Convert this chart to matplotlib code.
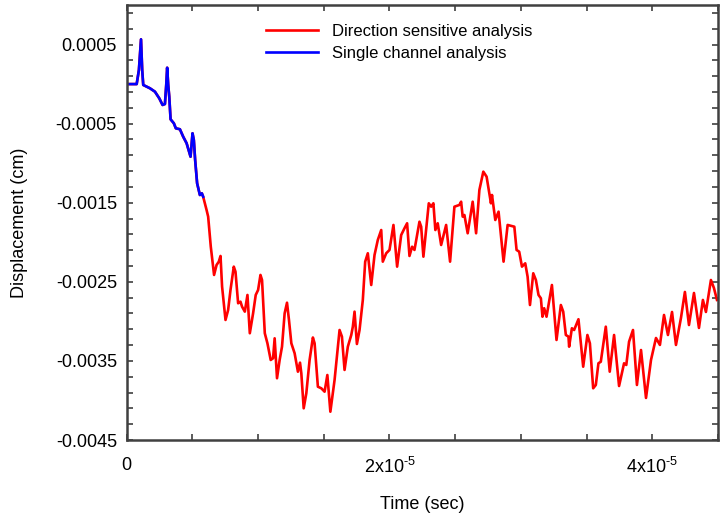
import numpy as np
import matplotlib
matplotlib.use("Agg")
import matplotlib.pyplot as plt
from matplotlib.ticker import FixedLocator, FuncFormatter

plt.rcParams['font.family'] = ['Liberation Sans', 'DejaVu Sans']
plt.rcParams['mathtext.fontset'] = 'custom'
plt.rcParams['mathtext.rm'] = 'Liberation Sans'
plt.rcParams['axes.unicode_minus'] = False

# time in units of 1e-5 s, displacement in units of 1e-4 cm
t_single = [0.0, 0.076, 0.093, 0.109, 0.118, 0.126, 0.177, 0.215, 0.248, 0.273,
            0.291, 0.301, 0.308, 0.316, 0.324, 0.334, 0.359, 0.374, 0.405, 0.430,
            0.456, 0.486, 0.501, 0.511, 0.521, 0.536, 0.557, 0.572, 0.582]
d_single = [0.0, 0.0, 1.78, 5.66, 1.78, -0.11, -0.53, -0.96, -1.80, -2.64,
            -2.52, -0.11, 2.07, -0.11, -1.59, -4.45, -4.96, -5.59, -5.71, -6.65,
            -7.48, -9.18, -6.22, -7.07, -9.60, -12.54, -14.02, -13.81, -14.24]

t_dir = t_single + [
    0.608, 0.620, 0.640, 0.665, 0.684, 0.701, 0.714, 0.726, 0.752, 0.772,
    0.790, 0.815, 0.828, 0.848, 0.866, 0.878, 0.899, 0.919, 0.937, 0.962,
    0.982, 1.000, 1.018, 1.030, 1.051, 1.071, 1.096, 1.114, 1.126, 1.144,
    1.164, 1.182, 1.202, 1.220, 1.235, 1.253, 1.278, 1.303, 1.319, 1.329,
    1.347, 1.367, 1.392, 1.417, 1.430, 1.455, 1.481, 1.506, 1.527, 1.550,
    1.582, 1.620, 1.638, 1.658, 1.683, 1.709, 1.721, 1.734, 1.752, 1.772,
    1.797, 1.815, 1.835, 1.861, 1.886, 1.911, 1.937, 1.949, 1.975, 2.000,
    2.030, 2.058, 2.089, 2.114, 2.134, 2.152, 2.172, 2.190, 2.228, 2.241,
    2.258, 2.299, 2.317, 2.334, 2.349, 2.367, 2.393, 2.431, 2.461, 2.494,
    2.532, 2.545, 2.557, 2.570, 2.595, 2.633, 2.659, 2.684, 2.714, 2.739,
    2.760, 2.772, 2.780, 2.805, 2.830, 2.868, 2.899, 2.950, 2.967, 2.987,
    3.008, 3.033, 3.051, 3.069, 3.094, 3.114, 3.134, 3.152, 3.164, 3.177,
    3.195, 3.236, 3.271, 3.304, 3.322, 3.342, 3.362, 3.367, 3.388, 3.405,
    3.438, 3.474, 3.506, 3.525, 3.550, 3.570, 3.590, 3.608, 3.646, 3.676,
    3.709, 3.747, 3.785, 3.802, 3.823, 3.853, 3.883, 3.914, 3.952, 3.990,
    4.028, 4.058, 4.089, 4.119, 4.150, 4.180, 4.218, 4.248, 4.279, 4.317,
    4.355, 4.385, 4.408, 4.446, 4.469, 4.492]
d_dir = d_single + [
    -15.92, -16.76, -20.56, -24.13, -22.87, -22.45, -21.73, -25.61, -29.82, -28.56,
    -26.03, -23.08, -23.72, -27.71, -27.51, -28.14, -28.77, -26.66, -31.50, -28.98,
    -26.66, -26.03, -24.13, -24.77, -31.50, -32.77, -34.88, -34.66, -32.14, -37.19,
    -34.88, -33.20, -28.98, -27.64, -29.82, -32.77, -34.03, -36.36, -35.22, -36.56,
    -40.99, -39.09, -34.88, -32.04, -32.77, -38.26, -38.46, -38.89, -36.78, -41.42,
    -37.41, -31.09, -31.93, -36.14, -33.20, -31.72, -30.67, -28.77, -32.86, -31.09,
    -27.29, -22.45, -21.39, -25.40, -21.61, -19.71, -18.45, -22.45, -21.39, -20.97,
    -17.81, -23.08, -19.08, -18.23, -17.60, -21.73, -20.56, -20.97, -17.40, -18.03,
    -21.82, -15.07, -15.50, -15.07, -18.45, -17.60, -20.34, -17.81, -22.45, -15.50,
    -15.28, -14.87, -16.76, -16.55, -18.86, -14.87, -18.86, -13.39, -11.07, -11.71,
    -13.81, -15.07, -14.02, -17.18, -16.13, -22.45, -17.81, -18.03, -20.97, -21.19,
    -23.08, -22.66, -24.35, -27.93, -23.92, -24.77, -26.66, -27.08, -29.41, -28.34,
    -29.41, -25.40, -32.35, -27.93, -28.77, -31.72, -31.93, -33.20, -30.87, -31.09,
    -29.73, -35.73, -31.72, -32.77, -38.46, -38.04, -35.30, -35.10, -30.67, -36.36,
    -31.72, -38.17, -35.30, -35.51, -32.57, -31.09, -38.04, -33.62, -39.68, -34.88,
    -32.10, -32.98, -29.19, -31.72, -28.81, -32.98, -29.57, -26.28, -30.46, -26.41,
    -30.83, -27.29, -28.81, -24.77, -25.78, -27.29]

labels = ["Direction sensitive analysis", "Single channel analysis"]
x_major = [0.0, 2e-5, 4e-5]
y_major = [-0.0045, -0.0035, -0.0025, -0.0015, -0.0005, 0.0005]
y_major_labels = ["-0.0045", "-0.0035", "-0.0025", "-0.0015", "-0.0005", "0.0005"]

t_dir_s = np.array(t_dir) * 1e-5
d_dir_cm = np.array(d_dir) * 1e-4
t_single_s = np.array(t_single) * 1e-5
d_single_cm = np.array(d_single) * 1e-4

fig = plt.figure(figsize=(7.26, 5.2), dpi=100)
ax = fig.add_axes([0.1745, 0.1538, 0.8145, 0.8366])

ax.plot(t_dir_s, d_dir_cm, color='#ff0000', lw=1.9, label=labels[0])
ax.plot(t_single_s, d_single_cm, color='#0000ff', lw=1.9, label=labels[1])

ax.set_xlim(0, 4.5e-5)
ax.set_ylim(-0.0045, 0.001)

ax.xaxis.set_major_locator(FixedLocator(x_major))
ax.xaxis.set_minor_locator(FixedLocator(np.arange(0, 4.5e-5 + 1e-9, 0.5e-5)))
def xfmt(v, pos):
    if abs(v) < 1e-12:
        return "0"
    m = int(round(v / 1e-5))
    return r"$\mathregular{%dx10^{\text{-}5}}$" % m
ax.xaxis.set_major_formatter(FuncFormatter(xfmt))

ax.yaxis.set_major_locator(FixedLocator(y_major))
ax.set_yticklabels(y_major_labels)
ax.yaxis.set_minor_locator(FixedLocator(np.arange(-0.0045, 0.00101, 0.0002)))

ax.tick_params(which='both', direction='in', top=True, right=True,
               color='#404040', width=1.2)
ax.tick_params(which='major', length=4, labelsize=13, pad=7)
ax.tick_params(which='minor', length=4)
ax.tick_params(axis='x', which='major', pad=12)

for s in ax.spines.values():
    s.set_color('#404040')
    s.set_linewidth(1.8)

ax.set_xlabel("Time (sec)", fontsize=13, labelpad=14)
ax.set_ylabel("Displacement (cm)", fontsize=13, labelpad=20)

leg = ax.legend(loc='upper left', bbox_to_anchor=(266 / 726, 1 - 24 / 520),
                bbox_transform=fig.transFigure, frameon=False, fontsize=12,
                handlelength=3.1, handletextpad=0.85, labelspacing=0.42,
                borderpad=0, borderaxespad=0)

fig.savefig("out.png", dpi=100, facecolor='white')
